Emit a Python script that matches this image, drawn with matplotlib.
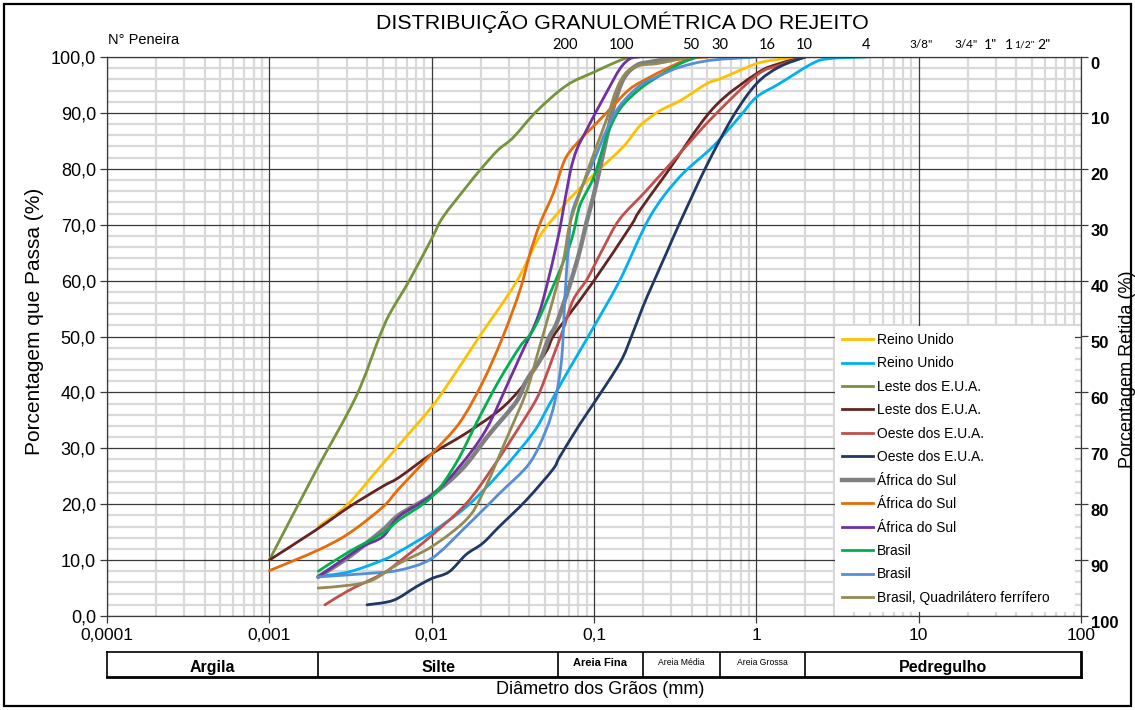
import numpy as np
import matplotlib
matplotlib.use("Agg")
import matplotlib.pyplot as plt
import matplotlib.transforms as mtransforms
from matplotlib.patches import Rectangle, PathPatch
from matplotlib.path import Path
from matplotlib.lines import Line2D
from matplotlib.ticker import LogLocator, NullFormatter

plt.rcParams['font.family'] = ['Liberation Sans', 'DejaVu Sans']

# ---- grain-size curves: diameter (mm) vs percent passing ----
reino_unido_1_x = [0.002, 0.003, 0.0046, 0.0063, 0.01, 0.0131, 0.0197, 0.033, 0.046, 0.062, 0.0705,
                   0.1, 0.152, 0.192, 0.255, 0.34, 0.5, 0.6, 1.0, 1.4, 2.0]
reino_unido_1_y = [16, 19.8, 26, 30.6, 37.4, 42.2, 50, 59.6, 67.8, 72.6, 74.6,
                   79, 84, 87.7, 90.4, 92.2, 95.3, 96.1, 98.8, 99.6, 100]

reino_unido_2_x = [0.002, 0.0031, 0.005, 0.0063, 0.01, 0.0163, 0.0261, 0.042, 0.051, 0.0643, 0.0817,
                   0.1, 0.1445, 0.221, 0.336, 0.537, 0.783, 1.0, 1.38, 2.2, 2.8, 4.75]
reino_unido_2_y = [7.1, 7.9, 10, 11.5, 15, 19.5, 25.5, 32.7, 36.9, 42.2, 47.4,
                   51.8, 60.1, 71.4, 78.5, 83.9, 89.2, 92.8, 95.2, 98.8, 99.7, 100]

leste_1_x = [0.001, 0.0019, 0.0034, 0.00476, 0.0055, 0.00728, 0.01, 0.0117, 0.0163, 0.0199,
             0.0255, 0.0318, 0.0443, 0.0676, 0.1, 0.1445, 0.166]
leste_1_y = [10, 25.5, 39.1, 49.9, 54, 60, 67.5, 71.3, 76.7, 79.8,
             83.3, 85.6, 90.3, 94.9, 97.3, 99.4, 100]

leste_2_x = [0.001, 0.00194, 0.0031, 0.005, 0.0063, 0.01, 0.0163, 0.0261, 0.0347, 0.04, 0.051,
             0.056, 0.0705, 0.1, 0.166, 0.192, 0.278, 0.537, 1.0, 1.38, 2.0]
leste_2_y = [10, 15.4, 19.5, 23.2, 24.8, 29, 32.7, 36.8, 40.4, 43, 47.4,
             50, 54, 60, 69.5, 72.6, 79.1, 90.7, 97, 98.8, 100]

oeste_1_x = [0.0022, 0.0031, 0.005, 0.0063, 0.01, 0.0163, 0.0237, 0.035, 0.044, 0.0495, 0.056,
             0.0645, 0.0743, 0.09, 0.1, 0.114, 0.144, 0.21, 0.336, 0.537, 1.0, 1.38, 2.0]
oeste_1_y = [2, 4.6, 7.6, 9.7, 14.4, 20.1, 26.5, 34, 38.7, 42.2, 46.4,
             51.2, 56.5, 60.1, 62.6, 65.8, 71, 76.1, 82.7, 89.2, 96.7, 98.5, 100]

oeste_2_x = [0.004, 0.0058, 0.008, 0.01, 0.0128, 0.0163, 0.0206, 0.0261, 0.0382, 0.0557, 0.0613,
             0.0813, 0.1, 0.1445, 0.17, 0.2, 0.23, 0.284, 0.336, 0.489, 0.713, 1.0, 1.38, 2.0]
oeste_2_y = [2, 2.8, 5.2, 6.7, 7.9, 11, 13, 16, 20.7, 26.2, 28.4,
             34.2, 38.1, 45.3, 50, 55.3, 59.4, 65.4, 70.2, 80.3, 89.2, 95.2, 98.2, 100]

africa_1_x = [0.002, 0.0031, 0.005, 0.0063, 0.01, 0.0155, 0.0226, 0.033, 0.0382, 0.0465, 0.053,
              0.0589, 0.0705, 0.0817, 0.09, 0.1, 0.114, 0.131, 0.152, 0.183, 0.221, 0.3, 0.4]
africa_1_y = [7, 10.6, 15.4, 18.1, 21.6, 26.4, 32.5, 38.2, 42, 45.8, 49.9,
              52.4, 59, 65.3, 70.5, 75.5, 82.8, 90.7, 96.1, 98.5, 99.1, 99.7, 100]

africa_2_x = [0.001, 0.002, 0.0031, 0.005, 0.0063, 0.01, 0.0148, 0.0206, 0.0274, 0.035, 0.0403,
              0.0465, 0.0561, 0.0647, 0.0711, 0.0859, 0.1, 0.1315, 0.1667, 0.221, 0.308, 0.39, 0.5]
africa_2_y = [8.1, 11.8, 14.8, 19.5, 22.8, 29, 34.5, 41.8, 49.9, 58.3, 64.8,
              70.2, 75.6, 81, 83.1, 85.8, 87.7, 91.3, 94.3, 96.4, 98.5, 99.7, 100]

africa_3_x = [0.002, 0.0036, 0.005, 0.0063, 0.01, 0.0148, 0.0216, 0.0301, 0.035, 0.0444, 0.051,
              0.0589, 0.0632, 0.0711, 0.0782, 0.0902, 0.1, 0.1197, 0.1445, 0.1667, 0.19]
africa_3_y = [7, 12.1, 14.2, 17.8, 21.6, 26.7, 33.3, 42.2, 46.4, 53, 58.9,
              66.6, 71, 79.2, 83.4, 87, 89.5, 93.7, 97.9, 99.7, 100]

brasil_1_x = [0.002, 0.0031, 0.005, 0.0063, 0.01, 0.0141, 0.0197, 0.0261, 0.035, 0.0423, 0.0536,
              0.0678, 0.0746, 0.082, 0.1, 0.1197, 0.1445, 0.192, 0.255, 0.339, 0.43]
brasil_1_y = [8, 11.5, 14.8, 17.2, 21.3, 27.3, 35.6, 42.2, 48.2, 51.2, 57.7,
              64.8, 68.5, 73.5, 78.6, 85.8, 90.7, 94.3, 96.7, 98.8, 100]

brasil_2_x = [0.002, 0.004, 0.0063, 0.01, 0.0163, 0.0261, 0.04, 0.0507, 0.0575, 0.0632, 0.0662,
              0.0695, 0.073, 0.085, 0.1, 0.1197, 0.1445, 0.192, 0.255, 0.339, 0.52, 1.0]
brasil_2_y = [7, 7.6, 8.2, 10.3, 16, 21.9, 27.3, 33.3, 38.5, 46, 57,
              66, 72, 77, 81.5, 87, 91.3, 94.9, 96.7, 98.2, 99.4, 100]

quadrilatero_x = [0.002, 0.0031, 0.0043, 0.0063, 0.01, 0.0163, 0.0206, 0.0287, 0.0382, 0.0444, 0.0536,
                  0.0647, 0.0711, 0.0859, 0.1, 0.1197, 0.138, 0.159, 0.192, 0.243, 0.308, 0.39]
quadrilatero_y = [5, 5.5, 6.4, 9.4, 12.4, 17.2, 21.9, 31.5, 40, 46.4, 54.7,
                  63.6, 70.2, 77.4, 82.8, 88.9, 94.3, 97.3, 98.5, 98.8, 99.4, 100]

series_labels = ["Reino Unido", "Reino Unido", "Leste dos E.U.A.", "Leste dos E.U.A.",
                 "Oeste dos E.U.A.", "Oeste dos E.U.A.", "África do Sul", "África do Sul",
                 "África do Sul", "Brasil", "Brasil", "Brasil, Quadrilátero ferrífero"]
series_x = [reino_unido_1_x, reino_unido_2_x, leste_1_x, leste_2_x, oeste_1_x, oeste_2_x,
            africa_1_x, africa_2_x, africa_3_x, brasil_1_x, brasil_2_x, quadrilatero_x]
series_y = [reino_unido_1_y, reino_unido_2_y, leste_1_y, leste_2_y, oeste_1_y, oeste_2_y,
            africa_1_y, africa_2_y, africa_3_y, brasil_1_y, brasil_2_y, quadrilatero_y]
series_colors = ["#FFC000", "#00B0F0", "#77933C", "#632523", "#C0504D", "#1F3864",
                 "#808080", "#E46C0A", "#7030A0", "#00B050", "#558ED5", "#948A54"]
series_widths = [2.0, 2.0, 2.0, 2.0, 2.0, 2.0, 3.2, 2.0, 2.0, 2.0, 2.0, 2.0]

# ---- axis ticks and sieve labels ----
x_ticks = [0.0001, 0.001, 0.01, 0.1, 1, 10, 100]
x_tick_labels = ["0,0001", "0,001", "0,01", "0,1", "1", "10", "100"]
y_ticks = list(range(0, 101, 10))
y_tick_labels = [f"{v},0" for v in y_ticks]
retained_labels = [str(v) for v in y_ticks]

sieve_names = ["200", "100", "50", "30", "16", "10", "4"]
sieve_pos = [0.0662, 0.147, 0.396, 0.598, 1.166, 1.97, 4.75]
inch_names = ['3/8"', '3/4"', '1"', '1', '1/2"', '2"']
inch_pos = [10.4, 19.6, 27.5, 36.0, 45.0, 59.4]
inch_sizes = [8.5, 8.5, 10, 10, 7.5, 10]

# ---- soil classes (ABNT limits, mm) ----
class_edges = [0.0001, 0.002, 0.06, 0.2, 0.6, 2.0, 100]
class_names = ["Argila", "Silte", "Areia Fina", "Areia Média", "Areia Grossa", "Pedregulho"]
class_sizes = [11.5, 11.5, 8, 6.2, 6.2, 11.5]
class_weights = ["bold", "bold", "bold", "normal", "normal", "bold"]


def smooth_path(xs, ys):
    """Smoothed line through the points (Catmull-Rom as cubic Bezier in log-x space)."""
    lx = np.log10(np.asarray(xs, float))
    yy = np.asarray(ys, float)
    p = np.column_stack([lx, yy])
    n = len(p)
    verts = [p[0]]
    codes = [Path.MOVETO]
    for i in range(n - 1):
        p0 = p[i - 1] if i > 0 else p[i]
        p1, p2 = p[i], p[i + 1]
        p3 = p[i + 2] if i + 2 < n else p[i + 1]
        c1 = p1 + (p2 - p0) / 6.0
        c2 = p2 - (p3 - p1) / 6.0
        verts += [c1, c2, p2]
        codes += [Path.CURVE4] * 3
    v = np.array(verts)
    v[:, 0] = 10 ** v[:, 0]
    return Path(v, codes)


W, H = 1135, 710
fig = plt.figure(figsize=(W / 100, H / 100), dpi=100)


def fx(px):
    return px / W


def fy(py):
    return 1 - py / H


GRID_DARK = "#3A3A3A"
AX_L, AX_R, AX_T, AX_B = 107, 1081, 57, 616
ax = fig.add_axes([fx(AX_L), fy(AX_B), (AX_R - AX_L) / W, (AX_B - AX_T) / H])
ax.set_xscale("log")
ax.set_xlim(1e-4, 100)
ax.set_ylim(0, 100)

ax.set_xticks(x_ticks)
ax.set_xticklabels(x_tick_labels)
ax.xaxis.set_minor_locator(LogLocator(base=10, subs=np.arange(2, 10)))
ax.xaxis.set_minor_formatter(NullFormatter())
ax.set_yticks(y_ticks)
ax.set_yticklabels(y_tick_labels)
ax.set_yticks(np.arange(0, 101, 2), minor=True)

# light minor grid underneath, dark major grid drawn above it
ax.grid(which="minor", color="#D9D9D9", lw=1.6)
ax.grid(which="major", visible=False)
ax.set_axisbelow(True)
for xv in x_ticks:
    ax.axvline(xv, color=GRID_DARK, lw=0.9, zorder=0.8)
for yv in y_ticks:
    ax.axhline(yv, color=GRID_DARK, lw=0.9, zorder=0.8)
for s in ax.spines.values():
    s.set_color(GRID_DARK)
    s.set_linewidth(0.9)

ax.tick_params(axis="y", which="major", length=5, width=0.9, direction="out",
               labelsize=13, pad=3, color=GRID_DARK)
ax.tick_params(axis="x", which="major", length=5, width=0.9, direction="out",
               labelsize=12.5, pad=4, color=GRID_DARK)
ax.tick_params(which="minor", length=0)

handles = []
for xs, ys, c, lw, lab in zip(series_x, series_y, series_colors, series_widths, series_labels):
    ax.add_patch(PathPatch(smooth_path(xs, ys), facecolor="none", edgecolor=c, lw=lw,
                           capstyle="round", joinstyle="round", zorder=2))
    handles.append(Line2D([], [], color=c, lw=lw, label=lab))

leg_x0 = (835 - AX_L) / (AX_R - AX_L)
leg_x1 = (1075 - AX_L) / (AX_R - AX_L)
leg_y1 = (AX_B - 326) / (AX_B - AX_T)
leg = ax.legend(handles=handles, loc="upper left",
                bbox_to_anchor=(leg_x0, leg_y1, leg_x1 - leg_x0, 0.0),
                mode="expand", fontsize=10, frameon=True, framealpha=1, fancybox=False,
                edgecolor="none", facecolor="white", handlelength=2.2, handletextpad=0.3,
                labelspacing=0.68, borderpad=0.5, borderaxespad=0)
leg.set_zorder(5)

# right axis: percent retained
ax2 = ax.twinx()
ax2.set_ylim(100, 0)
ax2.set_yticks(y_ticks)
ax2.set_yticklabels(retained_labels, fontweight="bold")
ax2.tick_params(axis="y", length=5, width=0.9, direction="out", labelsize=12, pad=2,
                color=GRID_DARK)
shift = mtransforms.ScaledTranslation(0, -4 / 72, fig.dpi_scale_trans)
for t in ax2.get_yticklabels():
    t.set_transform(t.get_transform() + shift)
for s in ax2.spines.values():
    s.set_visible(False)

# titles and axis labels
fig.text(fx(622), fy(22), "DISTRIBUIÇÃO GRANULOMÉTRICA DO REJEITO", ha="center", va="center",
         fontsize=15.4)
fig.text(fx(108), fy(40), "N° Peneira", ha="left", va="center", fontsize=10.5)
fig.text(fx(35), fy(321), "Porcentagem que Passa (%)", rotation=90, ha="center", va="center",
         fontsize=15)
fig.text(fx(1127), fy(369), "Porcentagem Retida (%)", rotation=90, ha="center", va="center",
         fontsize=13)
fig.text(fx(600), fy(690), "Diâmetro dos Grãos (mm)", ha="center", va="center", fontsize=13)

# sieve numbers along the top
top = mtransforms.blended_transform_factory(ax.transData, fig.transFigure)
for name, pos in zip(sieve_names, sieve_pos):
    ax.text(pos, fy(45), name, transform=top, ha="center", va="center", fontsize=10.5,
            family=["Lato", "DejaVu Sans"], clip_on=False)
for name, pos, sz in zip(inch_names, inch_pos, inch_sizes):
    ax.text(pos, fy(45), name, transform=top, ha="center", va="center", fontsize=sz,
            family=["Lato", "DejaVu Sans"], clip_on=False)

# soil classification strip
axt = fig.add_axes([fx(AX_L), fy(677), (AX_R - AX_L) / W, (677 - 652) / H])
axt.set_xscale("log")
axt.set_xlim(1e-4, 100)
axt.set_ylim(0, 1)
axt.set_xticks([])
axt.set_yticks([])
axt.minorticks_off()
for side, s in axt.spines.items():
    s.set_color("black")
    s.set_linewidth(2.0 if side in ("bottom", "right") else 1.2)
for e in class_edges[1:-1]:
    axt.axvline(e, color="black", lw=1.2)
narrow = ["Liberation Sans Narrow", "Liberation Sans", "DejaVu Sans"]
for i, (name, sz, wt) in enumerate(zip(class_names, class_sizes, class_weights)):
    xc = np.sqrt(class_edges[i] * class_edges[i + 1])
    yc = 0.38 if sz > 10 else 0.58
    axt.text(xc, yc, name, ha="center", va="center", fontsize=sz, fontweight=wt, family=narrow)

# outer frame
fig.patches.append(Rectangle((fx(4), fy(706)), fx(1131) - fx(4), fy(4) - fy(706),
                             transform=fig.transFigure, fill=False, edgecolor="black",
                             lw=1.6, zorder=10))

fig.savefig("out.png", dpi=100)
